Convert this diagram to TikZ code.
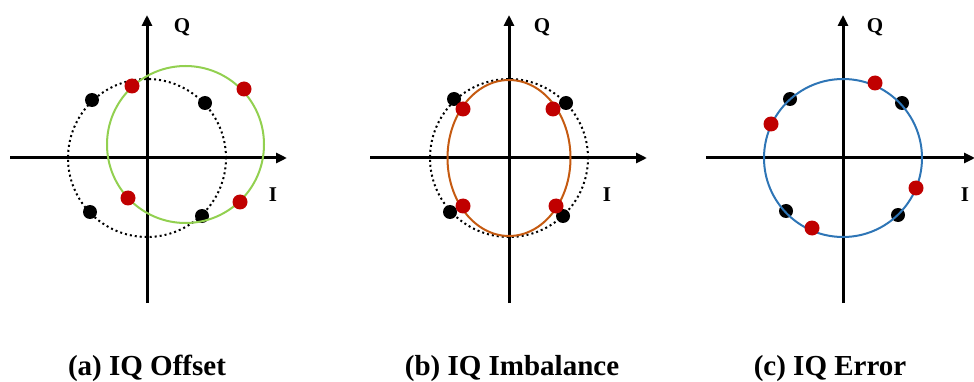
\documentclass[tikz,border=0pt]{standalone}
\usepackage{fontspec}
\setmainfont{Liberation Serif}
\usepackage{tikz}
\usetikzlibrary{arrows.meta}
\definecolor{offgreen}{RGB}{146,208,80}
\definecolor{imborange}{RGB}{197,90,17}
\definecolor{errblue}{RGB}{46,117,182}
\definecolor{dotred}{RGB}{192,0,0}
\tikzset{
  axis/.style={line width=3pt, -{Triangle[length=11pt,width=10pt]}},
  axlbl/.style={font=\fontsize{21}{25}\selectfont\bfseries, inner sep=0pt},
  caption/.style={font=\fontsize{29}{34}\selectfont\bfseries, anchor=base, inner sep=0pt},
  refcircle/.style={draw=black, line width=2pt, dash pattern=on 2pt off 3pt},
  distcurve/.style={line width=2pt},
  blackdot/.style={circle, fill=black, inner sep=0pt, minimum size=14pt},
  reddot/.style={circle, fill=dotred, inner sep=0pt, minimum size=15pt},
}
\begin{document}
\begin{tikzpicture}[x=1pt, y=-1pt]
  \useasboundingbox (0,0) rectangle (974,382);

  % (a) IQ offset
  \coordinate (ao) at (147,158);
  \coordinate (aIs) at (10,158);  \coordinate (aIe) at (287,158);
  \coordinate (aQs) at (147,303); \coordinate (aQe) at (147,15);
  \draw[axis] (aIs) -- (aIe);
  \draw[axis] (aQs) -- (aQe);
  \node[axlbl] (aQ) at (182,27) {Q};
  \node[axlbl] (aI) at (273,195) {I};
  \draw[refcircle] (ao) circle[radius=79pt];
  \node[blackdot] (ab1) at (92,100) {};
  \node[blackdot] (ab2) at (205,103) {};
  \node[blackdot] (ab3) at (90,212) {};
  \node[blackdot] (ab4) at (202,216) {};
  \draw[distcurve, offgreen] (185.5,144.5) circle[radius=78.5pt];
  \node[reddot] (ar1) at (132,86) {};
  \node[reddot] (ar2) at (244,89) {};
  \node[reddot] (ar3) at (128,198) {};
  \node[reddot] (ar4) at (240,202) {};
  \node[caption] (acap) at (147,375) {(a) IQ Offset};

  % (b) IQ imbalance
  \coordinate (bo) at (509,158);
  \coordinate (bIs) at (370,158); \coordinate (bIe) at (647,158);
  \coordinate (bQs) at (509,303); \coordinate (bQe) at (509,15);
  \draw[axis] (bIs) -- (bIe);
  \draw[axis] (bQs) -- (bQe);
  \node[axlbl] (bQ) at (542,27) {Q};
  \node[axlbl] (bI) at (607,195) {I};
  \draw[refcircle] (bo) circle[radius=79pt];
  \node[blackdot] (bb1) at (454,99) {};
  \node[blackdot] (bb2) at (566,103) {};
  \node[blackdot] (bb3) at (450,212) {};
  \node[blackdot] (bb4) at (563,216) {};
  \draw[distcurve, imborange] (bo) ellipse[x radius=61.5pt, y radius=78pt];
  \node[reddot] (br1) at (463,109) {};
  \node[reddot] (br2) at (553,109) {};
  \node[reddot] (br3) at (463,206) {};
  \node[reddot] (br4) at (556,206) {};
  \node[caption] (bcap) at (512,375) {(b) IQ Imbalance};

  % (c) IQ error
  \coordinate (co) at (843,158);
  \coordinate (cIs) at (706,158); \coordinate (cIe) at (975,158);
  \coordinate (cQs) at (843,303); \coordinate (cQe) at (843,15);
  \draw[axis] (cIs) -- (cIe);
  \draw[axis] (cQs) -- (cQe);
  \node[axlbl] (cQ) at (875,27) {Q};
  \node[axlbl] (cI) at (965,195) {I};
  \node[blackdot] (cb1) at (790,99) {};
  \node[blackdot] (cb2) at (902,103) {};
  \node[blackdot] (cb3) at (786,211) {};
  \node[blackdot] (cb4) at (898,215) {};
  \draw[distcurve, errblue] (co) circle[radius=79pt];
  \node[reddot] (cr1) at (875,83) {};
  \node[reddot] (cr2) at (771,124) {};
  \node[reddot] (cr3) at (916,188) {};
  \node[reddot] (cr4) at (812,228) {};
  \node[caption] (ccap) at (830,375) {(c) IQ Error};
\end{tikzpicture}
\end{document}
